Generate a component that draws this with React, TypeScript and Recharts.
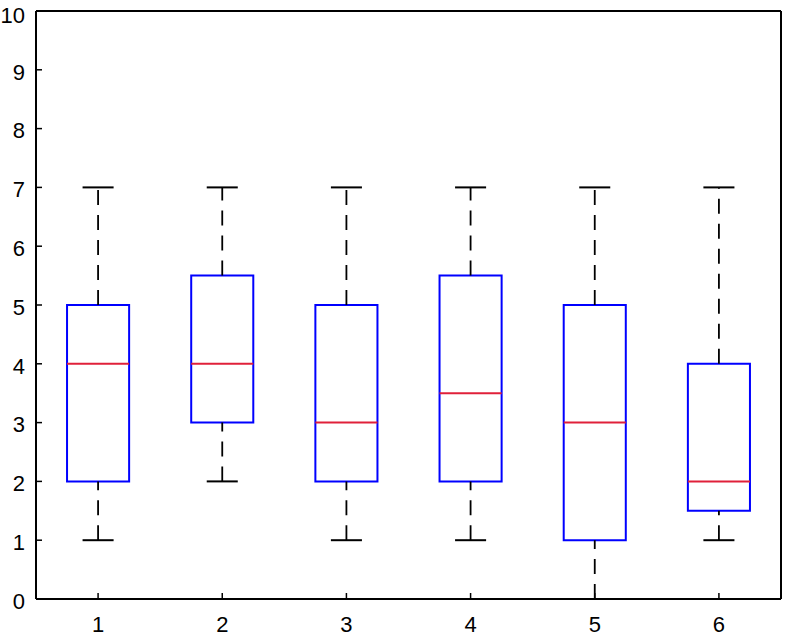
import { ComposedChart, XAxis, YAxis, ReferenceArea, ReferenceLine } from "recharts";

// five-number summary per group
const groups = [1, 2, 3, 4, 5, 6];
const mins = [1, 2, 1, 1, 0, 1];
const q1s = [2, 3, 2, 2, 1, 1.5];
const medians = [4, 4, 3, 3.5, 3, 2];
const q3s = [5, 5.5, 5, 5.5, 5, 4];
const maxs = [7, 7, 7, 7, 7, 7];
const yTicks = [0, 1, 2, 3, 4, 5, 6, 7, 8, 9, 10];

const BOX_HALF = 0.25;
const CAP_HALF = 0.125;

const data = groups.map((g, i) => ({
  cat: g,
  min: mins[i],
  q1: q1s[i],
  median: medians[i],
  q3: q3s[i],
  max: maxs[i],
}));

const font = { fontSize: 22, fill: "#000", fontFamily: "'Liberation Sans', Arial, sans-serif" };
const axisLine = { stroke: "#000", strokeWidth: 2 };
const tickLine = { stroke: "#000", strokeWidth: 1.5 };
const ids = { xAxisId: "x", yAxisId: "y" };

export default function App() {
  return (
    <div style={{ position: "absolute", left: 0, top: 0, background: "#fff" }}>
      <ComposedChart
        width={787}
        height={638}
        data={data}
        margin={{ top: 10, right: 5, bottom: 0, left: 0 }}
      >
        <XAxis
          xAxisId="x"
          dataKey="cat"
          type="number"
          domain={[0.5, 6.5]}
          allowDataOverflow
          ticks={groups}
          height={39}
          tickSize={-6}
          tickMargin={23}
          tick={font}
          axisLine={axisLine}
          tickLine={tickLine}
        />
        <XAxis
          xAxisId="top"
          orientation="top"
          type="number"
          domain={[0.5, 6.5]}
          allowDataOverflow
          ticks={groups}
          height={1}
          tickSize={-6}
          tick={false}
          axisLine={axisLine}
          tickLine={tickLine}
        />
        <YAxis
          yAxisId="y"
          type="number"
          domain={[0, 10]}
          allowDataOverflow
          ticks={yTicks}
          width={36}
          tickSize={-6}
          tickMargin={17}
          tick={{ ...font, dy: 2 }}
          axisLine={axisLine}
          tickLine={tickLine}
        />
        <YAxis
          yAxisId="right"
          orientation="right"
          type="number"
          domain={[0, 10]}
          allowDataOverflow
          ticks={yTicks}
          width={1}
          tickSize={-6}
          tick={false}
          axisLine={axisLine}
          tickLine={tickLine}
        />
        {data.map((d) => [
          <ReferenceLine
            key={`wu${d.cat}`}
            {...ids}
            segment={[{ x: d.cat, y: d.q3 }, { x: d.cat, y: d.max }]}
            stroke="#000"
            strokeWidth={1.8}
            strokeDasharray="15 10"
          />,
          <ReferenceLine
            key={`wl${d.cat}`}
            {...ids}
            segment={[{ x: d.cat, y: d.min }, { x: d.cat, y: d.q1 }]}
            stroke="#000"
            strokeWidth={1.8}
            strokeDasharray="15 10"
          />,
          <ReferenceLine
            key={`cu${d.cat}`}
            {...ids}
            segment={[{ x: d.cat - CAP_HALF, y: d.max }, { x: d.cat + CAP_HALF, y: d.max }]}
            stroke="#000"
            strokeWidth={2}
          />,
          <ReferenceLine
            key={`cl${d.cat}`}
            {...ids}
            segment={[{ x: d.cat - CAP_HALF, y: d.min }, { x: d.cat + CAP_HALF, y: d.min }]}
            stroke="#000"
            strokeWidth={2}
          />,
          <ReferenceArea
            key={`b${d.cat}`}
            {...ids}
            x1={d.cat - BOX_HALF}
            x2={d.cat + BOX_HALF}
            y1={d.q1}
            y2={d.q3}
            fill="#fff"
            fillOpacity={1}
            stroke="#0000ff"
            strokeWidth={2}
          />,
          <ReferenceLine
            key={`m${d.cat}`}
            {...ids}
            segment={[{ x: d.cat - BOX_HALF, y: d.median }, { x: d.cat + BOX_HALF, y: d.median }]}
            stroke="#e0203a"
            strokeWidth={2}
          />,
        ])}
      </ComposedChart>
    </div>
  );
}
